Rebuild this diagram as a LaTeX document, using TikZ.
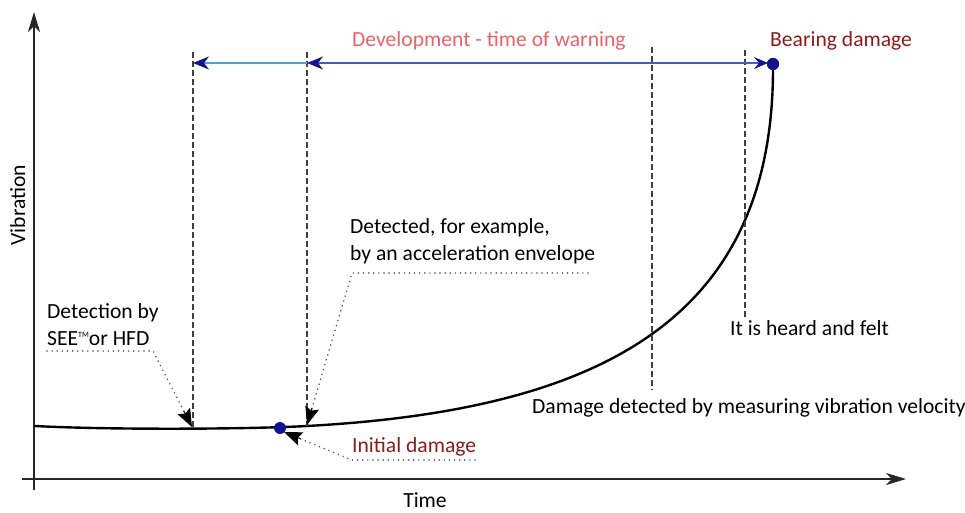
\documentclass[tikz,border=0pt]{standalone}
\usepackage{fontspec}
\setmainfont{Carlito}
\usetikzlibrary{arrows.meta,calc}
\definecolor{warnred}{HTML}{F0606A}
\definecolor{darkred}{HTML}{8B1C1C}
\definecolor{lightblue}{HTML}{4AA3DF}
\definecolor{midblue}{HTML}{3A5FCF}
\definecolor{navyblue}{HTML}{14148C}
\begin{document}
\begin{tikzpicture}[x=1pt,y=-1pt,
  every node/.style={inner sep=0pt, font=\fontsize{21.6}{27}\selectfont},
  lbl/.style={anchor=base west},
  axis/.style={draw=black!85, line width=1.8pt, -{Stealth[length=20pt,width=12pt,inset=6pt]}},
  curve/.style={draw=black, line width=2.4pt, line cap=round},
  marker/.style={draw=black!75, line width=1.1pt, dash pattern=on 6pt off 3pt},
  leader/.style={draw=black!70, line width=1.6pt, line cap=round, dash pattern=on 0.1pt off 5pt},
  leadtip/.style={draw=black, line width=1pt, -{Stealth[length=18pt,width=14pt,inset=3pt]}},
  span/.style={line width=1.4pt},
  dot/.style={circle, fill=navyblue, minimum size=12pt, inner sep=0pt}]
\useasboundingbox (0,0) rectangle (965,513);

% axes
\coordinate (ybot) at (34,490);
\coordinate (ytop) at (34,12);
\coordinate (xleft) at (22,479);
\coordinate (xright) at (906,479);
\draw[axis] (ybot) -- (ytop);
\draw[axis] (xleft) -- (xright);
\node[rotate=90, anchor=base] (vlab) at (25,205) {Vibration};
\node[anchor=base] (tlab) at (425,507) {Time};

% vibration curve: flat run, then accelerating growth up to failure
\coordinate (c0) at (35,426);
\coordinate (c1) at (307,426);
\coordinate (c2) at (773,64);
\draw[curve] (c0) .. controls (110,430) and (250,429.2) .. (c1)
  .. controls (600,410) and (775,320) .. (c2);

% vertical markers
\coordinate (m1top) at (193,52);  \coordinate (m1bot) at (193,429);
\coordinate (m2top) at (307,52);  \coordinate (m2bot) at (307,426);
\coordinate (m3top) at (652,47);  \coordinate (m3bot) at (652,390);
\coordinate (m4top) at (745,50);  \coordinate (m4bot) at (745,317);
\draw[marker] (m1top) -- (m1bot);
\draw[marker] (m2top) -- (m2bot);
\draw[marker] (m3top) -- (m3bot);
\draw[marker] (m4top) -- (m4bot);

% warning span
\node[dot] (faildot) at (773,64) {};
\node[dot] (initdot) at (280,428) {};
\coordinate (s1) at (193,63);
\coordinate (s2) at (307,63);
\coordinate (s3) at (768,63);
\draw[span, draw=lightblue, -{Stealth[navyblue,length=16pt,width=13pt,inset=5pt]}] (s2) -- (s1);
\draw[span, draw=midblue, {Stealth[navyblue,length=16pt,width=13pt,inset=5pt]}-{Stealth[navyblue,length=14pt,width=12pt,inset=5pt]}] (s2) -- (s3);
\node[dot] at (faildot) {};

% labels
\node[lbl, text=warnred] (devlab) at (352,47) {Development - time of warning};
\node[lbl, text=darkred] (bearlab) at (770,47) {Bearing damage};
\node[lbl] (det1) at (47,318) {Detection by};
\node[lbl] (det2) at (47,345) {SEE\raisebox{8pt}{\fontsize{8}{8}\selectfont TM}or HFD};
\node[lbl] (acc1) at (350,233) {Detected, for example,};
\node[lbl] (acc2) at (350,260) {by an acceleration envelope};
\node[lbl, text=darkred] (initlab) at (352,452) {Initial damage};
\node[lbl] (heard) at (730,335) {It is heard and felt};
\node[lbl] (velo) at (532,413) {Damage detected by measuring vibration velocity};

% dotted leaders, each ending in a solid arrowhead
\coordinate (la1) at (47,351);  \coordinate (la2) at (153,351); \coordinate (la3) at (192,427);
\coordinate (lb1) at (588,273); \coordinate (lb2) at (352,273); \coordinate (lb3) at (307,425);
\coordinate (lc1) at (475,460); \coordinate (lc2) at (352,460); \coordinate (lc3) at (284,432);
\draw[leader] (la1) -- (la2) -- ($(la3)!16pt!(la2)$);
\draw[leader] (lb1) -- (lb2) -- ($(lb3)!16pt!(lb2)$);
\draw[leader] (lc1) -- (lc2) -- ($(lc3)!16pt!(lc2)$);
\draw[leadtip] ($(la3)!18pt!(la2)$) -- (la3);
\draw[leadtip] ($(lb3)!18pt!(lb2)$) -- (lb3);
\draw[leadtip] ($(lc3)!18pt!(lc2)$) -- (lc3);
\end{tikzpicture}
\end{document}
